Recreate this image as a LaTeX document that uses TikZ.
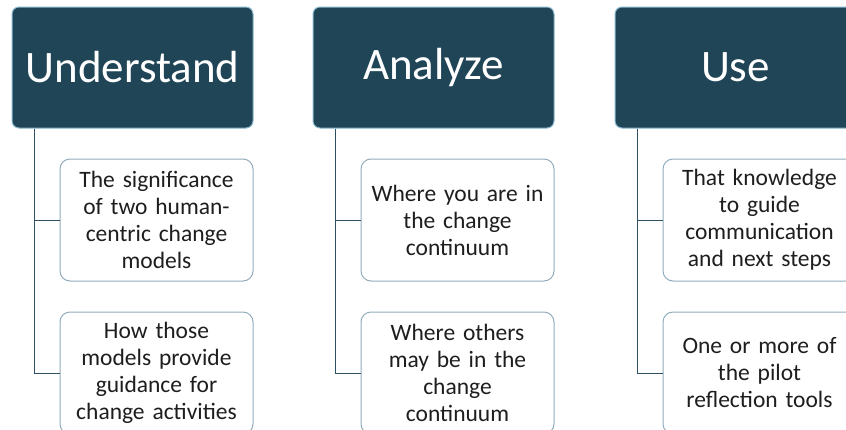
\documentclass[tikz,border=0pt]{standalone}
\usepackage{fontspec}
\setmainfont{Carlito}
\usetikzlibrary{positioning}
\definecolor{hdrfill}{RGB}{31,69,87}
\definecolor{hdredge}{RGB}{140,185,205}
\definecolor{boxedge}{RGB}{145,172,188}
\definecolor{linkcol}{RGB}{45,80,98}
\definecolor{txtcol}{RGB}{30,30,30}
\begin{document}
\begin{tikzpicture}[
      x=1pt, y=-1pt,
      header/.style ={rectangle, rounded corners=7pt, fill=hdrfill, draw=hdredge, line width=1pt,
                      minimum width=241pt, minimum height=121pt, text=white,
                      font=\fontsize{45}{50}\selectfont},
      item/.style   ={rectangle, rounded corners=10pt, fill=white, draw=boxedge, line width=1pt,
                      inner xsep=0pt, minimum width=193pt, minimum height=122pt, text width=193pt,
                      align=center, text=txtcol, font=\fontsize{23.5}{27}\selectfont},
      link/.style   ={draw=linkcol, line width=1pt},
      node distance=30pt
    ]
    \useasboundingbox (0,0) rectangle (846,429) ;

    % column heads
    \node [header] (understand) at (132.5,67.5) {Understand} ;
    \node [header] (analyze)    at (433.5,67.5) {Analyze} ;
    \node [header] (use)        at (735.5,67.5) {Use} ;

    % first column
    \node [item] (und1) [below=of understand.south east, anchor=north east] {The significance\\of two human-\\centric change\\models} ;
    \node [item] (und2) [below=of und1] {How those\\models provide\\guidance for\\change activities} ;

    % second column
    \node [item] (ana1) [below=of analyze.south east, anchor=north east] {Where you are in\\the change\\continuum} ;
    \node [item] (ana2) [below=of ana1] {Where others\\may be in the\\change\\continuum} ;

    % third column
    \node [item] (use1) [below=of use.south east, anchor=north east] {That knowledge\\to guide\\communication\\and next steps} ;
    \node [item] (use2) [below=of use1] {One or more of\\the pilot\\reflection tools} ;

    \draw [link] ([xshift=23pt]understand.south west) |- (und1.west) ;
    \draw [link] ([xshift=23pt]understand.south west) |- (und2.west) ;
    \draw [link] ([xshift=23pt]analyze.south west) |- (ana1.west) ;
    \draw [link] ([xshift=23pt]analyze.south west) |- (ana2.west) ;
    \draw [link] ([xshift=23pt]use.south west) |- (use1.west) ;
    \draw [link] ([xshift=23pt]use.south west) |- (use2.west) ;
  \end{tikzpicture}
\end{document}
